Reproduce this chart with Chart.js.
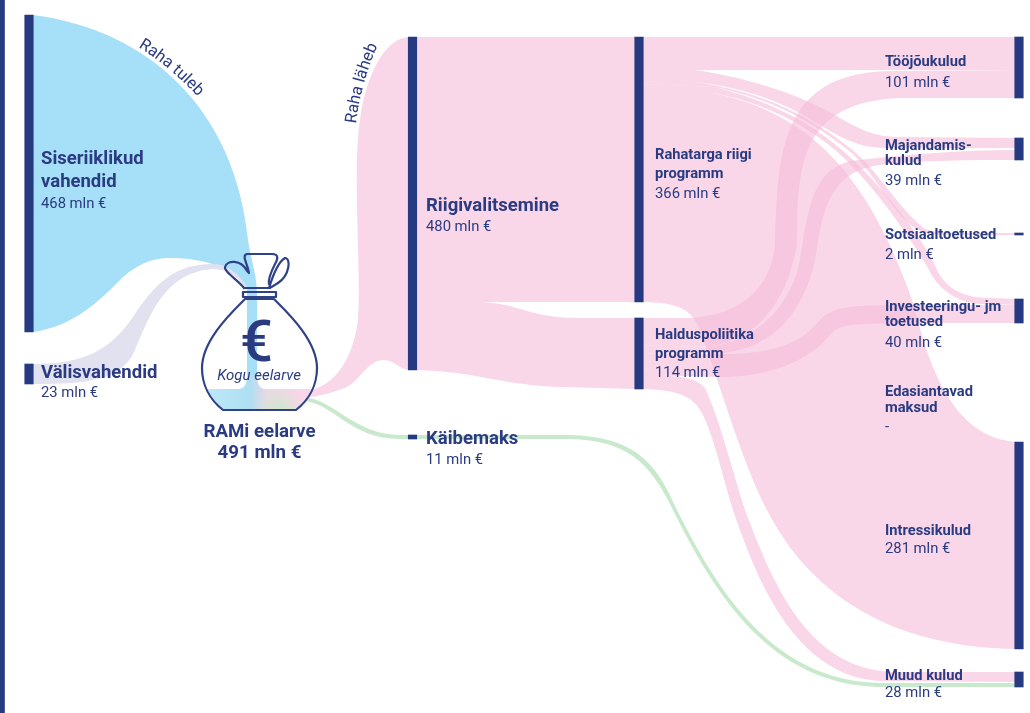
<!DOCTYPE html>
<html lang="et">
<head>
<meta charset="utf-8">
<title>RAMi eelarve</title>
<style>html,body{margin:0;padding:0;background:#fff}canvas{display:block}</style>
<script src="https://cdn.jsdelivr.net/npm/chart.js@4"></script>
</head>
<body>
<canvas id="c" width="1030" height="713"></canvas>
<script>
// ---- values (mln €) ----
const nodeNames = ["Siseriiklikud vahendid","Välisvahendid","Riigivalitsemine","Käibemaks",
  "Rahatarga riigi programm","Halduspoliitika programm","Tööjõukulud","Majandamiskulud",
  "Sotsiaaltoetused","Investeeringu- jm toetused","Edasiantavad maksud","Intressikulud","Muud kulud"];
const nodeValues = [468,23,480,11,366,114,101,39,2,40,null,281,28];
const totalName = "RAMi eelarve";
const totalValue = 491;
const unit = " mln €";

// ---- sankey layout, in axis units ----
const nodeColumn = [29,29,412.5,412.5,639,639,1019,1019,1019,1019,1019,1019,1019];
const nodeFrom   = [15,364,37,435,37,318,37,138,233,299,null,442,672];
const nodeTo     = [332,384,370,439,302,389,98,160,235,323,null,649,687];

const BLUE="#a6dff8", LAV="#e1e1ef", PINK="rgba(245,188,217,0.61)", GREEN="#c9e9cd", NAVY="#253a80", INK="#2a3b82";

// each edge: start point, then [x,y] lines or [c1x,c1y,c2x,c2y,x,y] curves
const ribbons = [
 {c:BLUE, t:[[33,15],[150,30,235,110,248,240],[251,260,257,275,257,295],[257,380]],
          b:[[33,332],[75,326,100,300,122,278],[140,262,155,258,170,258],[205,258,235,268,247,290],[247,380]]},
 {c:LAV,  t:[[33,364],[85,364,110,350,133,317],[155,283,175,264,213,264],[228,264,240,275,247,287]],
          b:[[33,384],[90,384,122,380,135,350],[150,315,165,272,213,269],[228,269,240,278,247,290]]},
 // bag -> Riigivalitsemine
 {c:PINK, t:[[303,391],[330,390,352,365,358,320],[362,280,352,170,360,120],[366,75,385,37,410,37]],
          b:[[303,398],[320,396,335,392,347,387],[362,378,368,360,384,360],[394,360,400,370,410,370]]},
 // Riigivalitsemine -> Rahatarga
 {c:PINK, t:[[412,37],[639,37]], b:[[412,302],[639,302]]},
 // Riigivalitsemine -> Halduspoliitika
 {c:PINK, t:[[412,302],[482,302],[520,304,530,318,580,318],[639,318]],
          b:[[412,370],[470,370,500,385,560,387],[639,389]]},
 // Rahatarga -> kulud
 {c:PINK, t:[[639,37],[1019,37]], b:[[639,70],[1019,70]]},
 {c:PINK, t:[[639,70],[695,70],[750,78,800,95,835,115],[860,130,875,137,900,137],[1019,138]],
          b:[[639,82],[695,82],[750,88,790,105,825,128],[850,143,865,148,890,148],[1019,148]]},
 {c:PINK, t:[[639,82],[695,82],[750,90,800,108,850,148],[880,172,895,205,925,229],[935,233,950,233,965,233],[1019,233]],
          b:[[639,84],[715,87],[760,97,800,112,848,150],[878,174,892,218,922,232],[935,235,950,235,965,235],[1019,235]]},
 {c:PINK, t:[[639,84],[715,87],[765,100,810,120,850,157],[885,190,925,240,938,272],[948,290,965,298,990,298],[1019,299]],
          b:[[639,93],[713,93],[760,102,805,122,843,157],[875,187,912,240,928,268],[937,288,955,302,980,304],[1019,305]]},
 {c:PINK, t:[[639,93],[713,93],[760,103,800,122,835,160],[870,198,895,250,913,303],[925,345,945,440,1019,442]],
          b:[[639,302],[680,302,692,310,700,330],[720,385,745,470,767,510],[800,575,870,648,1019,649]]},
 // Halduspoliitika -> kulud
 {c:PINK, t:[[639,318],[690,318],[740,315,770,290,775,245],[778,150,780,72,893,71],[1019,70]],
          b:[[639,345],[700,347],[750,345,785,310,797,245],[797,165,800,102,900,98],[1019,98]]},
 {c:PINK, t:[[639,345],[700,347],[750,347,790,310,800,260],[808,215,810,163,860,160],[900,155,960,150,1019,150]],
          b:[[639,353],[715,353],[765,352,802,320,815,260],[822,225,822,172,880,165],[920,160,970,160,1019,160]]},
 {c:PINK, t:[[639,353],[715,354],[770,355,800,345,820,320],[835,305,855,306,895,305],[1019,305]],
          b:[[639,375],[720,377],[770,377,810,360,830,335],[840,323,855,324,905,323],[1019,323]]},
 {c:PINK, t:[[639,375],[680,375,697,378,705,388],[720,420,735,480,745,510],[775,590,810,670,895,672],[1019,672]],
          b:[[639,389],[680,389,695,398,703,415],[715,440,725,485,733,510],[760,590,800,680,885,681],[1019,682]]},
 // Käibemaks
 {c:GREEN,t:[[304,397],[335,400,355,435,400,435],[570,435],[632,437,655,460,675,506],[717,590,772,681,880,683],[1019,683]],
          b:[[304,401],[335,404,350,439,400,439],[570,439],[627,440,650,463,672,508],[714,593,770,685,880,687],[1019,687]]}
];

// label layout: x, font kind, [baseline per line]
const labelLines = [
 {x:41,  f:"b18.5", l:["Siseriiklikud","vahendid"], y:[164,187], vy:208, v:0},
 {x:41,  f:"b18.5", l:["Välisvahendid"], y:[378], vy:397, v:1},
 {x:426, f:"b18.5", l:["Riigivalitsemine"], y:[211], vy:231, v:2},
 {x:426, f:"b18.5", l:["Käibemaks"], y:[444], vy:464, v:3},
 {x:655, f:"b14.7", l:["Rahatarga riigi","programm"], y:[159,178], vy:198, v:4},
 {x:655, f:"b14.7", l:["Halduspoliitika","programm"], y:[339,358], vy:377, v:5},
 {x:885, f:"b14.7", l:["Tööjõukulud"], y:[66], vy:87, v:6},
 {x:885, f:"b14.7", l:["Majandamis-","kulud"], y:[150,165], vy:185, v:7},
 {x:885, f:"b14.7", l:["Sotsiaaltoetused"], y:[239], vy:259, v:8},
 {x:885, f:"b14.7", l:["Investeeringu- jm","toetused"], y:[311,326], vy:347, v:9},
 {x:885, f:"b14.7", l:["Edasiantavad","maksud"], y:[396,412], vy:431, v:10},
 {x:885, f:"b14.7", l:["Intressikulud"], y:[535], vy:553, v:11},
 {x:885, f:"b14.7", l:["Muud kulud"], y:[680], vy:697, v:12}
];

function fontOf(k){ return "bold "+k.slice(1)+"px Roboto"; }

function edgeForward(ctx,e,X,Y,first){
  e.forEach((s,i)=>{
    if(i===0){ first? ctx.moveTo(X(s[0]),Y(s[1])) : ctx.lineTo(X(s[0]),Y(s[1])); }
    else if(s.length===2) ctx.lineTo(X(s[0]),Y(s[1]));
    else ctx.bezierCurveTo(X(s[0]),Y(s[1]),X(s[2]),Y(s[3]),X(s[4]),Y(s[5]));
  });
}
function edgeBackward(ctx,e,X,Y){
  const end=p=>p.slice(-2);
  ctx.lineTo(X(end(e[e.length-1])[0]),Y(end(e[e.length-1])[1]));
  for(let i=e.length-1;i>0;i--){
    const s=e[i],p=end(e[i-1]);
    if(s.length===2) ctx.lineTo(X(p[0]),Y(p[1]));
    else ctx.bezierCurveTo(X(s[2]),Y(s[3]),X(s[0]),Y(s[1]),X(p[0]),Y(p[1]));
  }
}

function bagBody(ctx,X,Y){
  ctx.beginPath();
  ctx.moveTo(X(245),Y(299));
  ctx.bezierCurveTo(X(232),Y(312),X(202),Y(340),X(202),Y(368));
  ctx.bezierCurveTo(X(202),Y(385),X(210),Y(400),X(223),Y(410));
  ctx.lineTo(X(296),Y(410));
  ctx.bezierCurveTo(X(309),Y(400),X(317),Y(385),X(317),Y(368));
  ctx.bezierCurveTo(X(317),Y(340),X(287),Y(312),X(274),Y(299));
  ctx.closePath();
}

function textOnCurve(ctx,str,p0,p1,p2){
  const N=200,pts=[];let len=0;
  for(let i=0;i<=N;i++){const t=i/N,a=(1-t)*(1-t),b=2*t*(1-t),c=t*t;
    const x=a*p0[0]+b*p1[0]+c*p2[0],y=a*p0[1]+b*p1[1]+c*p2[1];
    if(i)len+=Math.hypot(x-pts[i-1][0],y-pts[i-1][1]);pts.push([x,y,len]);}
  let d=0;
  for(const ch of str){
    const w=ctx.measureText(ch).width,mid=d+w/2;
    let k=pts.findIndex(q=>q[2]>=mid);if(k<1)k=pts.length-1;
    const A=pts[k-1],B=pts[k];
    ctx.save();ctx.translate(B[0],B[1]);ctx.rotate(Math.atan2(B[1]-A[1],B[0]-A[0]));
    ctx.fillText(ch,-w/2,0);ctx.restore();
    d+=w;
  }
}

const sankey = {
  id:"sankey",
  beforeDatasetsDraw(chart){
    const ctx=chart.ctx,xs=chart.scales.x,ys=chart.scales.y;
    const X=v=>xs.getPixelForValue(v),Y=v=>ys.getPixelForValue(v);
    ctx.save();
    ribbons.forEach(r=>{
      ctx.beginPath();
      edgeForward(ctx,r.t,X,Y,true);
      edgeBackward(ctx,r.b,X,Y);
      ctx.closePath();
      ctx.fillStyle=r.c;ctx.fill();
    });
    // bottom of the bag: the colours mix
    ctx.save();
    bagBody(ctx,X,Y);ctx.clip();
    const g=ctx.createLinearGradient(X(210),0,X(305),0);
    g.addColorStop(0,"#bce7f9");g.addColorStop(.42,"#aedff2");g.addColorStop(.62,"#f2d6e6");g.addColorStop(1,"#f9d6e8");
    ctx.fillStyle=g;
    ctx.beginPath();
    ctx.moveTo(X(195),Y(389));ctx.lineTo(X(238),Y(389));
    ctx.bezierCurveTo(X(245),Y(389),X(247),Y(383),X(247),Y(375));
    ctx.lineTo(X(257),Y(375));
    ctx.bezierCurveTo(X(257),Y(383),X(259),Y(389),X(266),Y(389));
    ctx.lineTo(X(325),Y(389));ctx.lineTo(X(325),Y(415));ctx.lineTo(X(195),Y(415));ctx.closePath();
    ctx.fill();
    const rg=ctx.createRadialGradient(X(278),Y(412),2,X(278),Y(412),26);
    rg.addColorStop(0,"rgba(201,233,205,.9)");rg.addColorStop(1,"rgba(201,233,205,0)");
    ctx.fillStyle=rg;ctx.fillRect(X(250),Y(389),X(70),Y(26));
    ctx.restore();
    ctx.restore();
  },
  afterDatasetsDraw(chart){
    const ctx=chart.ctx,xs=chart.scales.x,ys=chart.scales.y;
    const X=v=>xs.getPixelForValue(v),Y=v=>ys.getPixelForValue(v);
    ctx.save();
    // money bag
    ctx.strokeStyle="#2f4187";ctx.lineWidth=2.2;ctx.lineJoin="round";ctx.lineCap="round";
    bagBody(ctx,X,Y);ctx.stroke();
    ctx.strokeRect(X(243),Y(292),X(33),Y(5));
    ctx.beginPath();
    ctx.moveTo(X(244),Y(288));ctx.lineTo(X(270),Y(288));
    ctx.moveTo(X(244),Y(288));
    ctx.bezierCurveTo(X(238),Y(280),X(224),Y(272),X(225),Y(267));
    ctx.bezierCurveTo(X(227),Y(260),X(241),Y(259),X(247),Y(271));
    ctx.lineTo(X(249),Y(273));
    ctx.bezierCurveTo(X(248),Y(265),X(241),Y(255),X(247),Y(254));
    ctx.lineTo(X(272),Y(254));
    ctx.bezierCurveTo(X(279),Y(254),X(278),Y(259),X(275),Y(264));
    ctx.bezierCurveTo(X(271),Y(272),X(268),Y(280),X(269),Y(284));
    ctx.stroke();
    ctx.beginPath();
    ctx.moveTo(X(269),Y(288));
    ctx.bezierCurveTo(X(273),Y(275),X(278),Y(262),X(285),Y(258));
    ctx.bezierCurveTo(X(291),Y(258),X(290),Y(275),X(278),Y(283));
    ctx.bezierCurveTo(X(275),Y(285),X(272),Y(287),X(269),Y(288));
    ctx.stroke();
    // labels
    ctx.fillStyle=INK;ctx.textBaseline="alphabetic";ctx.textAlign="left";
    labelLines.forEach(n=>{
      ctx.font=fontOf(n.f);
      n.l.forEach((t,i)=>ctx.fillText(t,X(n.x),Y(n.y[i])));
      ctx.font="14.8px Roboto";
      const val=nodeValues[n.v];
      ctx.fillText(val===null?"-":val+unit,X(n.x),Y(n.vy));
    });
    ctx.textAlign="center";
    ctx.font="bold 18.7px Roboto";
    ctx.fillText(totalName,X(259.5),Y(437));
    ctx.fillText(totalValue+unit,X(259.5),Y(458));
    ctx.font="italic 15px Roboto";
    ctx.fillText("Kogu eelarve",X(259),Y(380));
    ctx.font="500 58px Roboto";
    ctx.fillText("€",X(256.5),Y(361));
    ctx.textAlign="left";
    ctx.font="16.5px Roboto";
    textOnCurve(ctx,"Raha tuleb",[X(138),Y(47)],[X(170),Y(66)],[X(204),Y(103)]);
    textOnCurve(ctx,"Raha läheb",[X(356),Y(124)],[X(361),Y(80)],[X(381),Y(38)]);
    ctx.restore();
  }
};

const bars = nodeNames.map((n,i)=>nodeFrom[i]===null?null:({x:nodeColumn[i],y:[nodeFrom[i],nodeTo[i]]})).filter(Boolean);
const stripe = [{x:2,y:[0,713]}];

new Chart(document.getElementById("c"),{
  type:"bar",
  data:{datasets:[
    {label:"Sõlmed",data:bars,backgroundColor:NAVY,barThickness:8.5,grouped:false},
    {label:"Serv",data:stripe,backgroundColor:NAVY,barThickness:5,grouped:false}
  ]},
  options:{
    responsive:false,animation:false,
    layout:{padding:0},
    plugins:{legend:{display:false},tooltip:{enabled:false},title:{display:false}},
    scales:{
      x:{type:"linear",min:0,max:1030,offset:false,display:false},
      y:{type:"linear",min:0,max:713,reverse:true,display:false}
    }
  },
  plugins:[sankey]
});
</script>
</body>
</html>
